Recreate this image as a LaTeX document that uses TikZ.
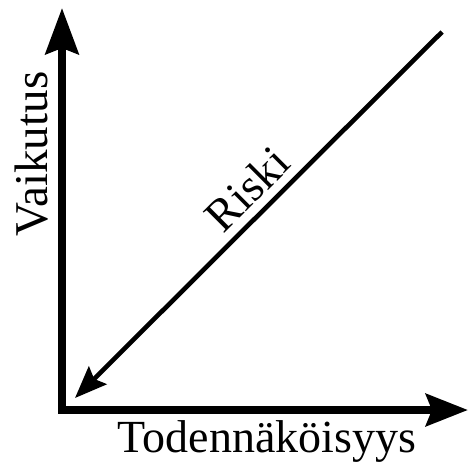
\documentclass[tikz,border=0pt]{standalone}
\usepackage{fontspec}
\setmainfont{Liberation Serif}
\usepackage{xcolor}
\usepackage{tikz}
\usetikzlibrary{arrows.meta,positioning}
\definecolor{ink}{HTML}{000000}
\tikzset{
  axis/.style={draw=ink,line width=4pt,line join=miter,
               {Stealth[length=23pt,width=16.5pt,inset=3pt]}-{Stealth[length=21pt,width=16pt,inset=3pt]}},
  riskline/.style={draw=ink,line width=2.3pt,-{Stealth[length=16pt,width=12.5pt,inset=2.5pt]}},
  lab/.style={font=\fontsize{23}{26}\selectfont,text=ink,inner sep=0pt}
}
\begin{document}
\begin{tikzpicture}[x=0.5pt,y=-0.5pt]
  \useasboundingbox (0,0) rectangle (469,465);
  \coordinate (origin) at (62,410);
  \coordinate (ytip) at (62,8);
  \coordinate (xtip) at (468,410);
  \coordinate (rtop) at (442,32);
  \coordinate (rtip) at (75,398);
  \draw[axis] (ytip) -- (origin) -- (xtip);
  \draw[riskline] (rtop) -- node[lab,sloped,above=4pt,pos=0.48] (risk) {Riski} (rtip);
  \node[lab,rotate=90,anchor=base,font=\fontsize{23.5}{26}\selectfont] (impact) at (47,154) {Vaikutus};
  \node[lab,anchor=base] (prob) at (267,452) {Todennäköisyys};
\end{tikzpicture}
\end{document}
